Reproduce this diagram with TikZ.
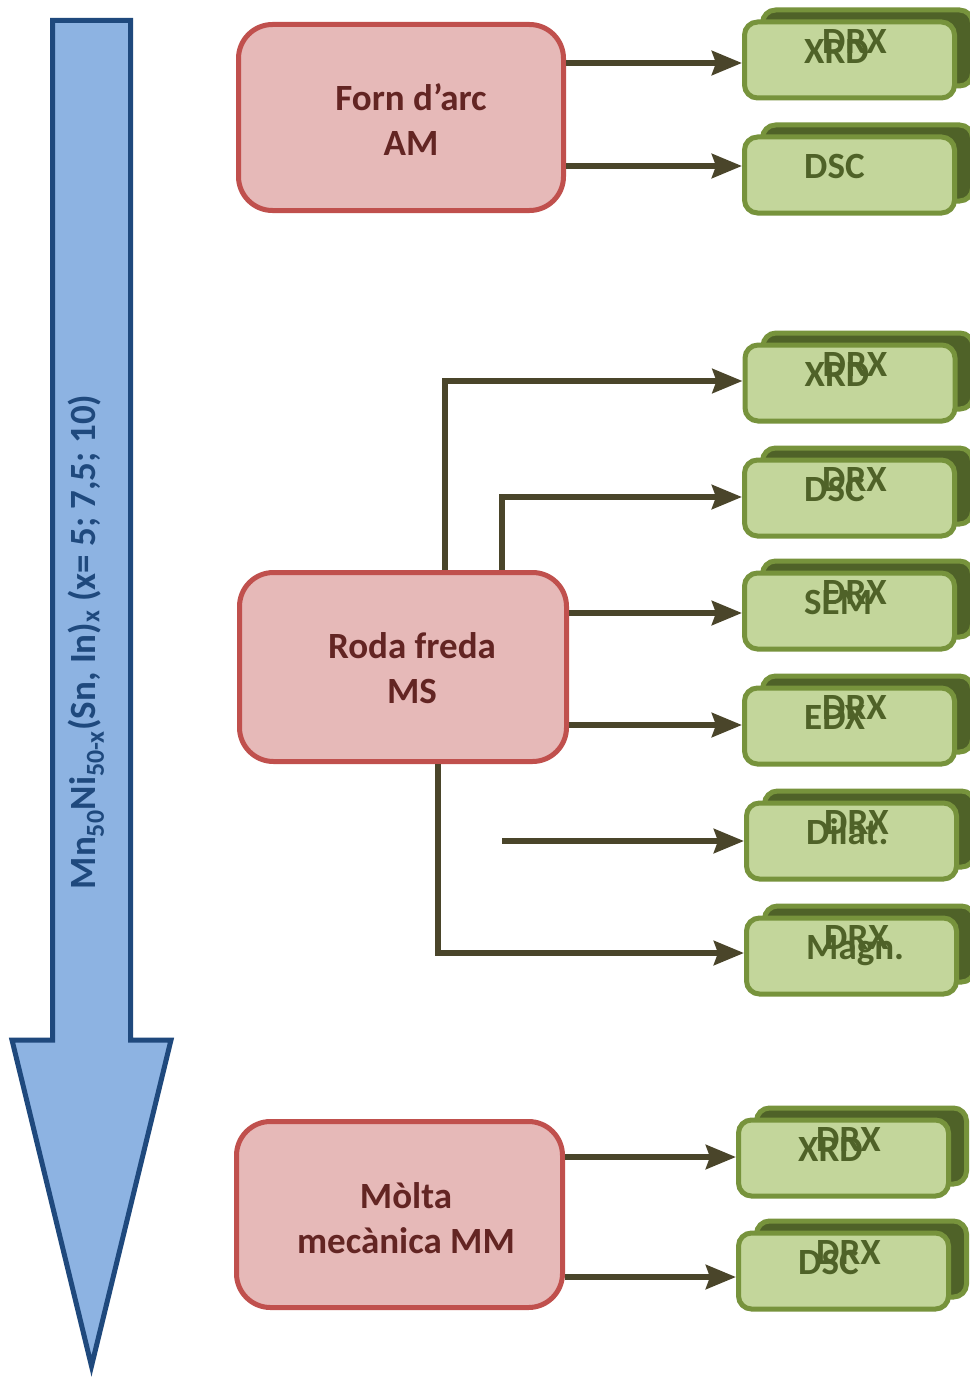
\documentclass[tikz,border=0pt]{standalone}
\usepackage{fontspec}
\setmainfont{Carlito}
\usetikzlibrary{arrows.meta,calc}

\definecolor{blueFill}{HTML}{8DB3E2}
\definecolor{blueLine}{HTML}{1F497D}
\definecolor{redFill}{HTML}{E6B9B8}
\definecolor{redLine}{HTML}{C0504D}
\definecolor{redText}{HTML}{632523}
\definecolor{greenFill}{HTML}{C3D69B}
\definecolor{greenLine}{HTML}{77933C}
\definecolor{greenDark}{HTML}{4F6228}
\definecolor{connCol}{HTML}{4A452A}

\tikzset{
  bigfont/.style={font=\fontsize{37}{45}\selectfont\bfseries},
  procbox/.style={draw=redLine, fill=redFill, line width=5pt, rounded corners=34pt, inner sep=0pt},
  proctext/.style={bigfont, text=redText, align=center, inner sep=0pt},
  gfront/.style={draw=greenLine, fill=greenFill, line width=5pt, rounded corners=13pt,
                 minimum width=210pt, minimum height=76pt, inner sep=0pt},
  gback/.style={draw=greenLine, fill=greenDark, line width=5pt, rounded corners=13pt,
                minimum width=210pt, minimum height=76pt, inner sep=0pt},
  gtext/.style={bigfont, text=greenDark, inner sep=0pt, anchor=base west},
  conn/.style={draw=connCol, line width=6pt, line join=miter,
               -{Stealth[length=30pt,width=24pt,inset=4pt]}},
}

% one analysis box: front card, card behind it, and labels
\newcommand{\anabox}[5]{%
  \node[gback] (#1b) at ($(#2,#3)+(18,-12)$) {};
  \node[gfront] (#1) at (#2,#3) {};
  \ifx\relax#5\relax\else
    \node[gtext] (#1d) at ($(#1.north west)+(80,34)$) {#5};
  \fi
  \node[gtext] (#1t) at ($(#1.north west)+(62,44)$) {#4};
}

\begin{document}
\begin{tikzpicture}[x=1pt,y=-1pt]
\useasboundingbox (0,0) rectangle (969,1378);
\fill[white] (0,0) rectangle (969,1378);

% composition arrow on the left
\draw[draw=blueLine, fill=blueFill, line width=5pt, line join=miter]
  (52.5,20.5) -- (130.5,20.5) -- (130.5,1040) -- (171,1040) -- (91.5,1366)
  -- (12,1040) -- (52.5,1040) -- cycle;
\node[rotate=90, bigfont, text=blueLine, inner sep=0pt] (comp) at (86,642)
  {Mn\textsubscript{50}Ni\textsubscript{50-x}(Sn, In)\textsubscript{x} (x= 5; 7,5; 10)};

% processing routes
\node[procbox, minimum width=325pt, minimum height=186pt] (am) at (401,117.5) {};
\node[proctext] (amt) at (411,120) {Forn d’arc\\AM};
\node[procbox, minimum width=327pt, minimum height=189pt] (ms) at (403,667) {};
\node[proctext] (mst) at (412,668) {Roda freda\\MS};
\node[procbox, minimum width=326pt, minimum height=186pt] (mm) at (399.5,1214.5) {};
\node[proctext] (mmt) at (406,1218) {Mòlta\\mecànica MM};

% analysis techniques
\anabox{g1}{849.5}{60}{XRD}{DRX}
\anabox{g2}{849.5}{175}{DSC}{}
\anabox{g3}{850}{383}{XRD}{DRX}
\anabox{g4}{849.5}{498}{DSC}{DRX}
\anabox{g5}{849.5}{611}{SEM}{DRX}
\anabox{g6}{849.5}{726}{EDX}{DRX}
\anabox{g7}{851.5}{841}{Dilat.}{DRX}
\anabox{g8}{851.5}{956}{Magn.}{DRX}
\anabox{g9}{843.5}{1158}{XRD}{DRX}
\anabox{g10}{843.5}{1271}{DSC}{DRX}

% connector rows
\coordinate (r1) at (0,63);
\coordinate (r2) at (0,166);
\coordinate (r3) at (0,381);
\coordinate (r4) at (0,497);
\coordinate (r5) at (0,613);
\coordinate (r6) at (0,725);
\coordinate (r7) at (0,841);
\coordinate (r8) at (0,953);
\coordinate (r9) at (0,1157);
\coordinate (r10) at (0,1277);
\coordinate (c445) at (445,0);
\coordinate (c502) at (502,0);
\coordinate (c438) at (438,0);
\coordinate (free) at (502,841);

\draw[conn] (am.east |- r1) -- (g1.west |- r1);
\draw[conn] (am.east |- r2) -- (g2.west |- r2);

\draw[conn] (ms.north -| c445) -- (c445 |- r3) -- (g3.west |- r3);
\draw[conn] (ms.north -| c502) -- (c502 |- r4) -- (g4.west |- r4);
\draw[conn] (ms.east |- r5) -- (g5.west |- r5);
\draw[conn] (ms.east |- r6) -- (g6.west |- r6);
\draw[conn] (free) -- (g7.west |- r7);
\draw[conn] (ms.south -| c438) -- (c438 |- r8) -- (g8.west |- r8);

\draw[conn] (mm.east |- r9) -- (g9.west |- r9);
\draw[conn] (mm.east |- r10) -- (g10.west |- r10);
\end{tikzpicture}
\end{document}
